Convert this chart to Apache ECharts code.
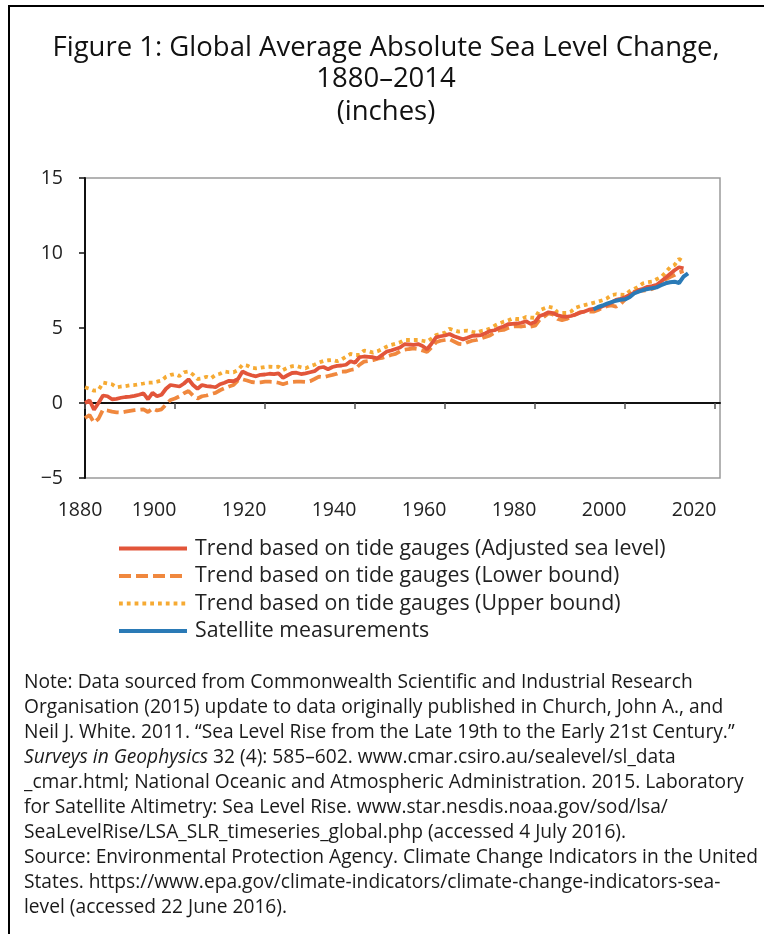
<!DOCTYPE html>
<html>
<head>
<meta charset="utf-8">
<script src="https://cdn.jsdelivr.net/npm/echarts@6/dist/echarts.min.js"></script>
<style>
html,body{margin:0;padding:0;background:#fff;}
#chart{width:764px;height:934px;}
</style>
</head>
<body>
<div id="chart"></div>
<script>
// ---- data (inches), annual ----
const tideStartYear = 1880;
const adjusted = [
  0.00, 0.18, -0.45, 0.00, 0.50, 0.45, 0.25, 0.28, 0.35, 0.40,
  0.42, 0.47, 0.55, 0.64, 0.25, 0.68, 0.45, 0.55, 0.95, 1.20,
  1.15, 1.10, 1.30, 1.58, 1.20, 0.95, 1.20, 1.13, 1.10, 1.05,
  1.25, 1.35, 1.48, 1.45, 1.60, 2.10, 1.95, 1.85, 1.78, 1.88,
  1.90, 1.95, 1.92, 1.98, 1.68, 1.85, 2.00, 2.02, 1.93, 1.98,
  2.05, 2.12, 2.35, 2.40, 2.25, 2.40, 2.48, 2.50, 2.55, 2.78,
  2.68, 3.05, 3.10, 3.08, 3.05, 2.98, 3.20, 3.42, 3.50, 3.60,
  3.70, 3.92, 3.90, 3.87, 3.93, 3.80, 3.58, 3.95, 4.38, 4.45,
  4.50, 4.60, 4.45, 4.35, 4.24, 4.35, 4.47, 4.50, 4.53, 4.65,
  4.80, 4.85, 5.00, 5.10, 5.25, 5.28, 5.30, 5.35, 5.45, 5.28,
  5.40, 5.80, 5.90, 6.05, 6.00, 5.85, 5.78, 5.75, 5.80, 5.90,
  6.02, 6.10, 6.22, 6.28, 6.32, 6.45, 6.55, 6.70, 6.87, 6.95,
  7.05, 7.20, 7.35, 7.53, 7.62, 7.75, 7.80, 7.87, 8.10, 8.35,
  8.60, 8.85, 9.05, 8.98
];
const lowerBound = [
  -1.00, -0.80, -1.30, -1.05, -0.45, -0.50, -0.58, -0.62, -0.64, -0.58,
  -0.52, -0.48, -0.45, -0.42, -0.60, -0.36, -0.50, -0.42, -0.10, 0.20,
  0.30, 0.45, 0.65, 0.80, 0.50, 0.30, 0.45, 0.50, 0.60, 0.68,
  0.85, 0.98, 1.10, 1.20, 1.50, 1.58, 1.50, 1.40, 1.36, 1.38,
  1.42, 1.42, 1.40, 1.35, 1.25, 1.35, 1.40, 1.42, 1.42, 1.40,
  1.45, 1.60, 1.76, 1.72, 1.80, 1.87, 1.95, 2.09, 2.10, 2.20,
  2.25, 2.55, 2.76, 2.80, 2.85, 2.95, 3.00, 3.10, 3.20, 3.27,
  3.45, 3.55, 3.60, 3.64, 3.60, 3.50, 3.40, 3.70, 4.05, 4.15,
  4.20, 4.25, 4.10, 3.95, 3.92, 4.05, 4.15, 4.20, 4.30, 4.40,
  4.50, 4.70, 4.85, 4.87, 5.00, 5.10, 5.13, 5.10, 5.15, 5.09,
  5.15, 5.55, 5.75, 5.98, 5.90, 5.60, 5.53, 5.60, 5.76, 5.90,
  6.05, 6.10, 6.10, 6.09, 6.20, 6.35, 6.45, 6.50, 6.42, 6.60,
  6.90, 7.20, 7.42, 7.45, 7.50, 7.53, 7.60, 7.75, 7.95, 8.25,
  8.40, 8.53, 8.70, 8.80
];
const upperBound = [
  1.05, 0.95, 0.82, 0.85, 1.36, 1.30, 1.25, 1.05, 1.10, 1.13,
  1.18, 1.20, 1.25, 1.30, 1.36, 1.36, 1.42, 1.49, 1.75, 1.87,
  1.93, 1.80, 2.05, 2.10, 1.90, 1.60, 1.64, 1.75, 1.65, 1.87,
  1.95, 2.10, 2.05, 2.05, 2.20, 2.55, 2.50, 2.35, 2.31, 2.35,
  2.40, 2.42, 2.40, 2.42, 2.20, 2.35, 2.45, 2.47, 2.38, 2.31,
  2.45, 2.55, 2.70, 2.80, 2.85, 2.87, 2.78, 2.90, 3.09, 3.27,
  3.20, 3.20, 3.50, 3.45, 3.36, 3.45, 3.60, 3.75, 3.87, 3.95,
  4.05, 4.20, 4.20, 4.20, 4.20, 4.15, 4.09, 4.30, 4.53, 4.60,
  4.69, 4.95, 4.85, 4.76, 4.80, 4.82, 4.75, 4.69, 4.80, 4.85,
  4.96, 5.15, 5.30, 5.42, 5.50, 5.64, 5.60, 5.60, 5.74, 5.70,
  5.68, 6.18, 6.30, 6.42, 6.35, 6.05, 6.00, 6.00, 6.10, 6.35,
  6.45, 6.53, 6.60, 6.68, 6.76, 6.85, 6.98, 7.20, 7.25, 7.22,
  7.20, 7.45, 7.60, 7.76, 7.98, 8.05, 8.09, 8.25, 8.40, 8.70,
  9.05, 9.20, 9.60, 9.42
];
const satStartYear = 1993;
const satellite = [
  6.24, 6.40, 6.50, 6.62, 6.72, 6.82, 6.88, 6.91, 7.05, 7.30,
  7.42, 7.53, 7.60, 7.65, 7.71, 7.85, 7.98, 8.05, 8.09, 8.00,
  8.42, 8.64
];
const xTicks = [1880, 1900, 1920, 1940, 1960, 1980, 2000, 2020];
const yTicks = [-5, 0, 5, 10, 15];
const seriesNames = [
  'Trend based on tide gauges (Adjusted sea level)',
  'Trend based on tide gauges (Lower bound)',
  'Trend based on tide gauges (Upper bound)',
  'Satellite measurements'
];
const titleLines = [
  'Figure 1: Global Average Absolute Sea Level Change,',
  '1880\u20132014',
  '(inches)'
];
const noteLines = [
  'Note: Data sourced from Commonwealth Scientific and Industrial Research',
  'Organisation (2015) update to data originally published in Church, John A., and',
  'Neil J. White. 2011. \u201cSea Level Rise from the Late 19th to the Early 21st Century.\u201d',
  '{i|Surveys in Geophysics} 32 (4): 585\u2013602. www.cmar.csiro.au/sealevel/sl_data',
  '_cmar.html; National Oceanic and Atmospheric Administration. 2015. Laboratory',
  'for Satellite Altimetry: Sea Level Rise. www.star.nesdis.noaa.gov/sod/lsa/',
  'SeaLevelRise/LSA_SLR_timeseries_global.php (accessed 4 July 2016).',
  'Source: Environmental Protection Agency. Climate Change Indicators in the United',
  'States. https://www.epa.gov/climate-indicators/climate-change-indicators-sea-',
  'level (accessed 22 June 2016).'
];

// ---- build ----
function pairs(start, vals) { return vals.map((v, i) => [start + i, v]); }
const FONT = 'Open Sans';
const TXT = '#222';
const chart = echarts.init(document.getElementById('chart'), null, {renderer: 'canvas'});

const graphics = [
  {type: 'line', shape: {x1: 8, y1: 6, x2: 764, y2: 6}, style: {stroke: '#000', lineWidth: 2}},
  {type: 'line', shape: {x1: 9, y1: 6, x2: 9, y2: 934}, style: {stroke: '#000', lineWidth: 2}}
];
const titleY = [48, 79, 112];
titleLines.forEach((t, i) => {
  graphics.push({type: 'text', x: 386, y: titleY[i], style: {
    text: t, fill: '#111', fontFamily: FONT, fontSize: 27.5, fontWeight: i < 2 ? 500 : 400,
    textAlign: 'center', textVerticalAlign: 'middle'}});
});
noteLines.forEach((t, i) => {
  graphics.push({type: 'text', x: 24, y: 683 + i * 25, style: {
    text: t, fill: '#1a1a1a', fontFamily: FONT, fontSize: 19.2,
    textAlign: 'left', textVerticalAlign: 'middle',
    rich: {i: {fontStyle: 'italic', fontFamily: FONT, fontSize: 19.2, fill: '#1a1a1a'}}}});
});

const xMin = 1880, xMax = 2021.1;
const option = {
  backgroundColor: '#fff',
  animation: false,
  textStyle: {fontFamily: FONT},
  grid: {left: 85, right: 44, top: 178, bottom: 456, show: true, borderColor: '#9a9a9a', borderWidth: 1.5},
  xAxis: [
    {type: 'value', min: xMin, max: xMax, position: 'bottom',
     axisLine: {show: false, onZero: false}, axisTick: {show: false}, splitLine: {show: false},
     axisLabel: {customValues: xTicks, fontSize: 19.5, color: TXT, margin: 22, fontFamily: FONT,
       formatter: v => (v === xTicks[0] ? '{a|' + v + '}' : '{b|' + v + '}'),
       rich: {a: {fontSize: 19.5, color: TXT, fontFamily: FONT, padding: [0, 10, 0, 0]},
              b: {fontSize: 19.5, color: TXT, fontFamily: FONT, padding: [0, 42, 0, 0]}}}},
    {type: 'value', min: xMin, max: xMax, position: 'bottom',
     axisLine: {show: true, onZero: true, lineStyle: {color: '#111', width: 2}},
     axisTick: {show: true, customValues: xTicks, length: 6, lineStyle: {color: '#555', width: 1.5}},
     axisLabel: {show: false}, splitLine: {show: false}}
  ],
  yAxis: {type: 'value', min: -5, max: 15, interval: 5,
    axisLine: {show: true, lineStyle: {color: '#111', width: 2}},
    axisTick: {show: true, length: 6, lineStyle: {color: '#111', width: 1.5}},
    splitLine: {show: false},
    axisLabel: {customValues: yTicks, fontSize: 19.5, color: TXT, margin: 22, fontFamily: FONT,
      formatter: v => (v < 0 ? '\u2212' + Math.abs(v) : String(v))}},
  legend: {
    orient: 'vertical', left: 112, top: 533, itemWidth: 68, itemHeight: 14, itemGap: 6.5,
    itemStyle: {opacity: 0, borderWidth: 0},
    lineStyle: {width: 4},
    textStyle: {fontSize: 21.3, color: TXT, fontFamily: FONT, padding: [0, 0, 0, 3]},
    data: seriesNames
  },
  graphic: graphics,
  series: [
    {name: seriesNames[1], type: 'line', xAxisIndex: 0, symbol: 'none', z: 2,
     data: pairs(tideStartYear, lowerBound),
     lineStyle: {color: '#F0883E', width: 3.8, type: [12, 5], cap: 'butt'}, itemStyle: {color: '#F0883E'}},
    {name: seriesNames[2], type: 'line', xAxisIndex: 0, symbol: 'none', z: 3,
     data: pairs(tideStartYear, upperBound),
     lineStyle: {color: '#F6AA33', width: 3.8, type: [3.8, 4], cap: 'butt'}, itemStyle: {color: '#F6AA33'}},
    {name: seriesNames[0], type: 'line', xAxisIndex: 0, symbol: 'none', z: 4,
     data: pairs(tideStartYear, adjusted),
     lineStyle: {color: '#E2553A', width: 3.8}, itemStyle: {color: '#E2553A'}},
    {name: seriesNames[3], type: 'line', xAxisIndex: 0, symbol: 'none', z: 5,
     data: pairs(satStartYear, satellite),
     lineStyle: {color: '#2A7AB6', width: 4}, itemStyle: {color: '#2A7AB6'}}
  ]
};
chart.setOption(option);
</script>
</body>
</html>
